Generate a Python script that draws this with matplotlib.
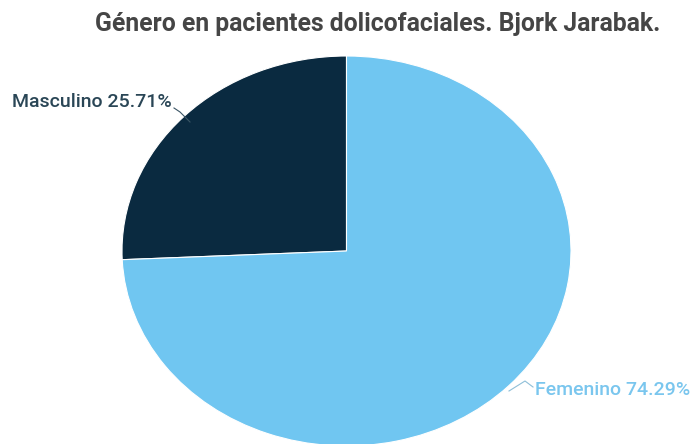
import matplotlib
matplotlib.use("Agg")
import matplotlib.pyplot as plt

categories = ["Masculino", "Femenino"]
percentages = [25.71, 74.29]
colors = ["#0a2a40", "#70c6f1"]
label_colors = ["#2a4656", "#7ac6ee"]
title = "Género en pacientes dolicofaciales. Bjork Jarabak."

plt.rcParams["font.family"] = ["Roboto", "DejaVu Sans"]

W, H = 695, 444
fig = plt.figure(figsize=(W / 100, H / 100), dpi=100)
fig.patch.set_facecolor("white")

# pie area (pixel box), stretched horizontally
px_left, px_right, px_top, px_bottom = 122, 571, 56, 446
ax = fig.add_axes([px_left / W, (H - px_bottom) / H,
                   (px_right - px_left) / W, (px_bottom - px_top) / H])
wedges, _ = ax.pie(percentages, colors=colors, startangle=90, counterclock=True,
                   radius=1, wedgeprops=dict(linewidth=0.8, edgecolor="white"))
ax.set_aspect("auto")
ax.set_xlim(-1, 1)
ax.set_ylim(-1, 1)
ax.axis("off")

fig.text(378 / W, 1 - 24 / H, title, ha="center", va="center",
         fontsize=17.8, fontweight="bold", color="#454545")


def to_fig(x, y):
    return (x / W, 1 - y / H)


# Masculino label with leader line
fig.text(*to_fig(12, 102), f"{categories[0]} {percentages[0]:.2f}%",
         ha="left", va="center", fontsize=14, fontweight="medium",
         color=label_colors[0])
fig.lines.append(plt.Line2D([174 / W, 180 / W, 190 / W],
                            [1 - 108 / H, 1 - 112 / H, 1 - 122 / H],
                            transform=fig.transFigure, color="#3a5565", lw=0.8))

# Femenino label with leader line
fig.text(*to_fig(535, 390), f"{categories[1]} {percentages[1]:.2f}%",
         ha="left", va="center", fontsize=14, fontweight="medium",
         color=label_colors[1])
fig.lines.append(plt.Line2D([509 / W, 525 / W, 533 / W],
                            [1 - 391 / H, 1 - 381 / H, 1 - 387 / H],
                            transform=fig.transFigure, color="#8fbfd8", lw=0.8))

fig.savefig("out.png", dpi=100, facecolor="white")
